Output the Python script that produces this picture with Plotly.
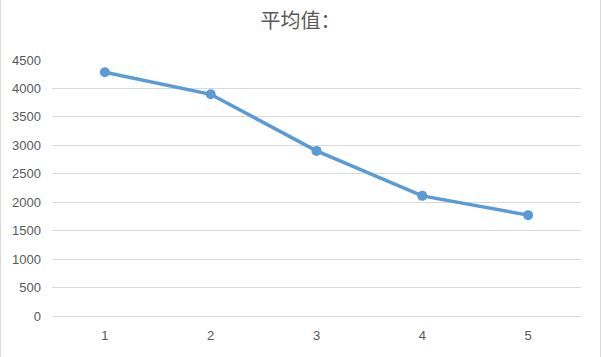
import plotly.graph_objects as go

title_text = "平均值："
categories = ["1", "2", "3", "4", "5"]
values = [4285, 3897, 2902, 2112, 1773]
y_ticks = [0, 500, 1000, 1500, 2000, 2500, 3000, 3500, 4000, 4500]

W, H = 601, 357
L, R, T, B = 52, 20, 60, 41

fig = go.Figure()
fig.add_trace(go.Scatter(
    x=categories, y=values, mode="lines+markers",
    line=dict(color="#5B9BD5", width=3.5),
    marker=dict(color="#5B9BD5", size=10, symbol="circle"),
    showlegend=False, hoverinfo="skip",
))

pw = W - L - R
fig.update_layout(
    width=W, height=H,
    margin=dict(l=L, r=R, t=T, b=B),
    paper_bgcolor="white", plot_bgcolor="white",
    title=dict(text=title_text, x=0.5, xanchor="center", y=1 - 21 / H, yanchor="middle",
               font=dict(family="Noto Sans CJK SC", size=20, color="#595959")),
    font=dict(family="Liberation Sans", size=13, color="#595959"),
    xaxis=dict(type="category", range=[-0.5, 4.5], showgrid=False, zeroline=False,
               showline=False, ticks="", tickfont=dict(size=13, color="#595959"), ticklabelstandoff=10),
    yaxis=dict(range=[0, 4500], tickvals=y_ticks, ticktext=[str(v) for v in y_ticks],
               showgrid=True, gridcolor="#D9D9D9", gridwidth=1, zeroline=True,
               zerolinecolor="#D9D9D9", zerolinewidth=1, showline=False, ticks="",
               tickfont=dict(size=13, color="#595959"), ticklabelstandoff=10),
    shapes=[
        dict(type="line", xref="paper", yref="paper",
             x0=(0.5 - L) / pw, x1=(0.5 - L) / pw, y0=-B / (H - T - B), y1=(H - B) / (H - T - B),
             line=dict(color="#D9D9D9", width=1)),
        dict(type="line", xref="paper", yref="paper",
             x0=(600.5 - L) / pw, x1=(600.5 - L) / pw, y0=-B / (H - T - B), y1=(H - B) / (H - T - B),
             line=dict(color="#D9D9D9", width=1)),
    ],
)

fig.write_html("out.html")
